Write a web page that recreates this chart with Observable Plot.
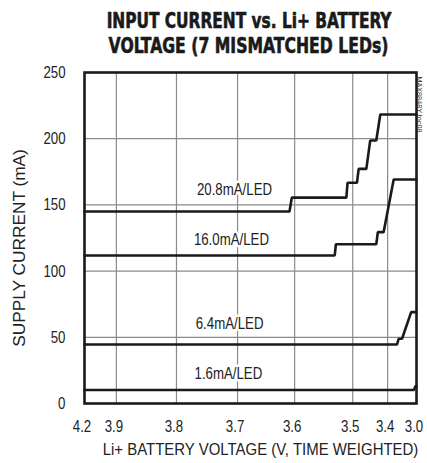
<!DOCTYPE html>
<html><head><meta charset="utf-8">
<script src="https://cdn.jsdelivr.net/npm/d3@7"></script>
<script src="https://cdn.jsdelivr.net/npm/@observablehq/plot@0.6"></script>
<style>
html,body{margin:0;padding:0;background:#fff;}
</style></head><body><div id="chart"></div>
<script>
// ---- data ----
const titleLines = ["INPUT CURRENT vs. Li+ BATTERY", "VOLTAGE (7 MISMATCHED LEDs)"];
const xLabel = "Li+ BATTERY VOLTAGE (V, TIME WEIGHTED)";
const yLabel = "SUPPLY CURRENT (mA)";
const noteText = "MAX8848Y toc08";
const xTicks = [4.2, 3.9, 3.8, 3.7, 3.6, 3.5, 3.4, 3.0];
// fraction of elapsed (weighted) time at which each tick voltage is reached
const xTickWeight = [0, 0.096, 0.277, 0.461, 0.633, 0.808, 0.913, 1];
const yTicks = [0, 50, 100, 150, 200, 250];
const seriesNames = ["20.8mA/LED", "16.0mA/LED", "6.4mA/LED", "1.6mA/LED"];
const v208 = [4.2, 3.609, 3.605, 3.511, 3.509, 3.488, 3.483, 3.461, 3.450, 3.4325, 3.421, 3.0];
const i208 = [145, 145, 155.5, 155.5, 166.7, 166.7, 177.2, 177.2, 198.6, 198.6, 218.3, 218.3];
const v160 = [4.2, 3.531, 3.529, 3.4325, 3.428, 3.4115, 3.316, 3.0];
const i160 = [111.8, 111.8, 120.3, 120.3, 129.4, 129.4, 169.2, 169.2];
const v64 = [4.2, 3.269, 3.247, 3.2, 3.074, 3.0];
const i64 = [44.6, 44.6, 48.9, 48.9, 69, 69];
const v16 = [4.2, 3.035, 3.015, 3.0];
const i16 = [10.2, 10.2, 13, 13];
const labelV = [3.705, 3.71, 3.713, 3.715];
const labelI = [161.6, 123.9, 60.4, 22.7];

// ---- build tables ----
const seriesV = [v208, v160, v64, v16];
const seriesI = [i208, i160, i64, i16];
const lineData = seriesNames.flatMap((name, k) => seriesV[k].map((v, j) => ({name, v, i: seriesI[k][j]})));
const labelData = seriesNames.map((name, k) => ({name, v: labelV[k], i: labelI[k]}));

const W = 427, H = 463, mL = 84, mR = 11, mT = 72, mB = 60;
const FONT = "'Liberation Sans',Arial,sans-serif";
const TITLEFONT = "'DejaVu Sans Condensed','Liberation Sans',sans-serif";
const GRID = "#8a8a8a";
const INK = "#222";

const chart = Plot.plot({
  width: W, height: H,
  marginLeft: mL, marginRight: mR, marginTop: mT, marginBottom: mB,
  style: {fontFamily: FONT, fontSize: "17px", color: INK, background: "#fff"},
  x: {type: "linear", domain: xTicks, range: xTickWeight.map(w => mL + w * (W - mL - mR))},
  y: {domain: [0, 250]},
  marks: [
    Plot.gridX(xTicks.slice(1, -1), {stroke: GRID, strokeOpacity: 1, strokeWidth: 1.2}),
    Plot.gridY(yTicks.slice(1, -1), {stroke: GRID, strokeOpacity: 1, strokeWidth: 1.2}),
    Plot.text(labelData, {x: "v", y: "i", text: "name", fontSize: 17, fill: INK,
      stroke: "white", strokeWidth: 5, paintOrder: "stroke"}),
    Plot.line(lineData, {x: "v", y: "i", z: "name", stroke: "#1a1a1a", strokeWidth: 2.6, strokeLinejoin: "miter"}),
    Plot.frame({stroke: "#1a1a1a", strokeWidth: 2.6}),
    Plot.axisX(xTicks, {tickSize: 0, tickPadding: 16, dx: -2.5, tickFormat: d => d.toFixed(1), fontSize: 17, fill: INK, label: null}),
    Plot.axisY(yTicks, {tickSize: 0, tickPadding: 19, fontSize: 17, fill: INK, label: null}),
    Plot.text([xLabel], {frameAnchor: "bottom", dy: 51, lineAnchor: "bottom", fontSize: 17, fill: INK, dx: 10}),
    Plot.text([yLabel], {frameAnchor: "left", textAnchor: "middle", dx: -65, dy: 10, rotate: -90, fontSize: 17, fill: INK}),
    Plot.text([titleLines[0]], {frameAnchor: "top", dy: -45, dx: -1.5, lineAnchor: "bottom", fontSize: 21, fontWeight: "bold",
      fontFamily: TITLEFONT, fill: "#1a1a1a", stroke: "#1a1a1a", strokeWidth: 0.6}),
    Plot.text([titleLines[1]], {frameAnchor: "top", dy: -20, dx: -2, lineAnchor: "bottom", fontSize: 21, fontWeight: "bold",
      fontFamily: TITLEFONT, fill: "#1a1a1a", stroke: "#1a1a1a", strokeWidth: 0.6}),
    Plot.text([noteText], {frameAnchor: "top-right", dx: 6, dy: 4, rotate: 90, textAnchor: "start", fontSize: 8, fill: "#333"})
  ]
});
document.getElementById("chart").appendChild(chart);

// the reference uses a condensed typeface: squeeze each text horizontally about its anchor
const fixedWidth = new Map([
  [titleLines[0], 285], [titleLines[1], 280], [xLabel, 316], [yLabel, 198], [noteText, 56]
]);
d3.select(chart).selectAll("text").each(function() {
  const natural = this.getComputedTextLength();
  if (!(natural > 0)) return;
  const t = this.textContent;
  const target = fixedWidth.has(t) ? fixedWidth.get(t) : natural * 0.78;
  const s = target / natural;
  const b = this.getBBox();
  const anchor = getComputedStyle(this).textAnchor;
  const cx = anchor === "end" ? b.x + b.width : anchor === "middle" ? b.x + b.width / 2 : b.x;
  const tr = this.getAttribute("transform") || "";
  this.setAttribute("transform", `${tr} translate(${cx},0) scale(${s},1) translate(${-cx},0)`);
});
</script>
</body></html>
